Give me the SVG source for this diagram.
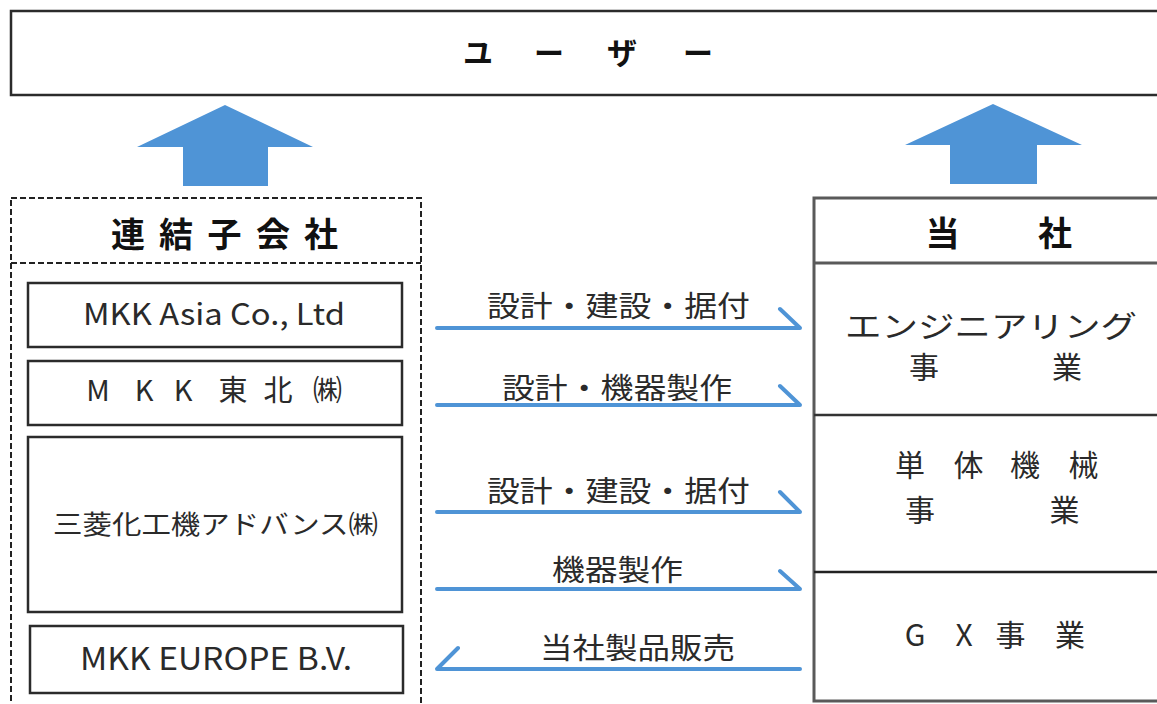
<svg xmlns="http://www.w3.org/2000/svg" width="1157" height="704" viewBox="0 0 1157 704">
<defs>
<style>
.t{font-family:"Noto Sans CJK JP","Noto Sans",sans-serif;fill:#2a2a2a;dominant-baseline:central}
.h{font-family:"Noto Sans CJK JP","Noto Sans",sans-serif;fill:#111;font-weight:bold;dominant-baseline:central;text-anchor:middle}
.c{text-anchor:middle}
.box{fill:#fff;stroke:#2b2b2b;stroke-width:2.5}
.conn{fill:none;stroke:#4f94d6;stroke-width:4;stroke-linecap:round;stroke-linejoin:round}
.big{fill:#4f94d6}
</style>
</defs>
<rect width="1157" height="704" fill="#fff"/>

<g id="user">
<rect x="11" y="11" width="1160" height="84" class="box"/>
<text class="h" x="478 549 622 698" y="51" font-size="30">ユーザー</text>
</g>

<g id="up-arrows">
<polygon class="big" points="225,105 313,147 268,147 268,186 183,186 183,147 137,147"/>
<polygon class="big" points="993,104 1082,145 1037,145 1037,184 950,184 950,145 905,145"/>
</g>

<g id="subsidiaries">
<rect x="11" y="198" width="410" height="530" fill="none" stroke="#222" stroke-width="2" stroke-dasharray="6 3"/>
<line x1="11" y1="263" x2="421" y2="263" stroke="#222" stroke-width="2" stroke-dasharray="6 3"/>
<text class="h" x="128 176 224.5 273 321" y="232" font-size="34">連結子会社</text>
</g>

<g id="mkk-asia">
<rect x="28" y="283" width="374" height="64" class="box"/>
<text class="t" x="83" y="312" font-size="30" textLength="262" lengthAdjust="spacingAndGlyphs">MKK Asia Co., Ltd</text>
</g>

<g id="mkk-tohoku">
<rect x="28" y="361" width="374" height="64" class="box"/>
<text class="t c" x="98 144 183 233 278 327.5" y="388" font-size="29">MKK東北㈱</text>
</g>

<g id="advance">
<rect x="28" y="437" width="374" height="175" class="box"/>
<text class="t" x="53" y="522" font-size="26" textLength="325" lengthAdjust="spacingAndGlyphs">三菱化工機アドバンス㈱</text>
</g>

<g id="mkk-europe">
<rect x="30" y="626" width="373" height="67" class="box"/>
<text class="t" x="80" y="656" font-size="31" textLength="272" lengthAdjust="spacingAndGlyphs">MKK EUROPE B.V.</text>
</g>

<g id="company">
<rect x="814" y="198" width="360" height="503" fill="#fff" stroke="#5a5a5a" stroke-width="3"/>
<line x1="814" y1="263" x2="1170" y2="263" stroke="#5a5a5a" stroke-width="3"/>
<text class="h" x="942.5 1055" y="231" font-size="34">当社</text>
</g>

<g id="engineering">
<line x1="814" y1="415" x2="1170" y2="415" stroke="#333" stroke-width="2.5"/>
<text class="t" x="845" y="324" font-size="30" textLength="292" lengthAdjust="spacingAndGlyphs">エンジニアリング</text>
<text class="t c" x="924 1067" y="365" font-size="30">事業</text>
</g>

<g id="machinery">
<line x1="814" y1="572" x2="1170" y2="572" stroke="#222" stroke-width="2.5"/>
<text class="t c" x="910 968.5 1025 1083.5" y="463" font-size="30">単体機械</text>
<text class="t c" x="920 1064.5" y="508" font-size="30">事業</text>
</g>

<g id="gx">
<text class="t c" x="915 964 1010.5 1070" y="633" font-size="30">GX事業</text>
</g>

<g id="connectors">
<path class="conn" d="M437,328 H800 L780,309"/>
<path class="conn" d="M437,405 H800 L780,386"/>
<path class="conn" d="M437,512 H800 L780,492"/>
<path class="conn" d="M437,589 H800 L780,571"/>
<path class="conn" d="M800,669 H437 L458,648"/>
<text class="t" x="487" y="304" font-size="29" textLength="263" lengthAdjust="spacingAndGlyphs">設計・建設・据付</text>
<text class="t" x="502" y="386" font-size="29" textLength="230" lengthAdjust="spacingAndGlyphs">設計・機器製作</text>
<text class="t" x="487" y="489" font-size="29" textLength="263" lengthAdjust="spacingAndGlyphs">設計・建設・据付</text>
<text class="t" x="552" y="568" font-size="29" textLength="131" lengthAdjust="spacingAndGlyphs">機器製作</text>
<text class="t" x="540" y="646" font-size="29" textLength="195" lengthAdjust="spacingAndGlyphs">当社製品販売</text>
</g>
</svg>
